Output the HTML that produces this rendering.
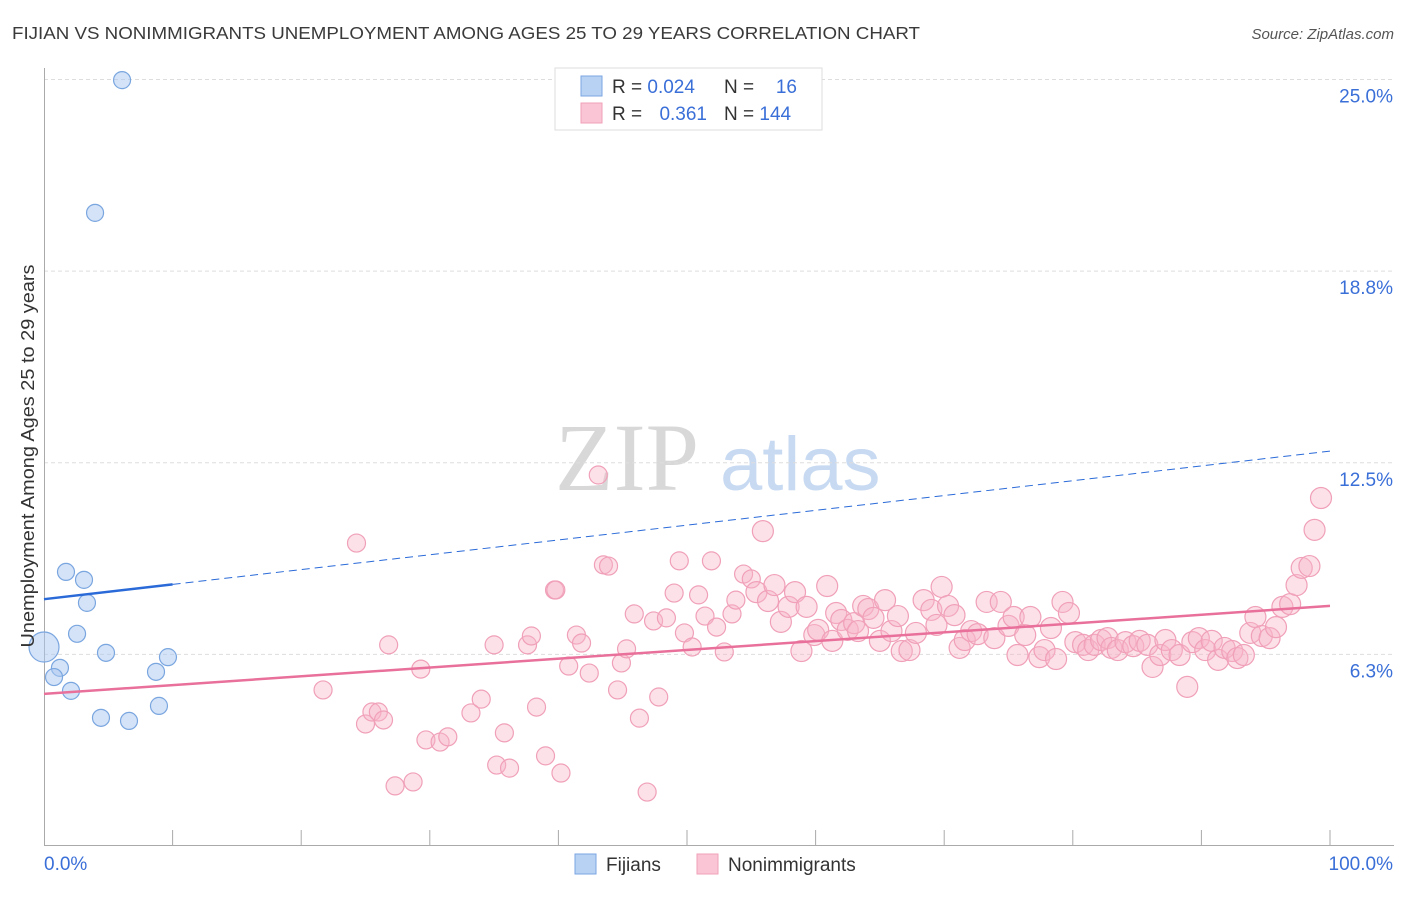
<!DOCTYPE html>
<html><head><meta charset="utf-8"><style>
body{margin:0;background:#fff;font-family:"Liberation Sans",sans-serif}
</style></head><body>
<svg width="1406" height="892" viewBox="0 0 1406 892" xmlns="http://www.w3.org/2000/svg" font-family="Liberation Sans, sans-serif">
<text x="12" y="39" font-size="17.5" fill="#3a3a3a" textLength="908" lengthAdjust="spacingAndGlyphs">FIJIAN VS NONIMMIGRANTS UNEMPLOYMENT AMONG AGES 25 TO 29 YEARS CORRELATION CHART</text>
<text x="1394" y="39" font-size="15" fill="#555" font-style="italic" text-anchor="end">Source: ZipAtlas.com</text>
<g>
<text x="555" y="490" font-size="96" fill="#d8d8d8" font-family="Liberation Serif, serif">ZIP</text>
<text x="720" y="490" font-size="76" fill="#c8daf2">atlas</text>
</g>
<g id="grid"></g>
<g id="axes"></g>
<g id="marks"></g>
<g>
<rect x="555" y="68" width="267" height="62" fill="#fff" stroke="#ddd"/>
<rect x="581" y="76" width="21" height="20" fill="#b8d2f4" stroke="#7aa6e0"/>
<rect x="581" y="103" width="21" height="20" fill="#fac6d6" stroke="#f0a0b8"/>
<text x="612" y="93" font-size="19" fill="#333">R = <tspan fill="#3a6fd8">0.024</tspan></text>
<text x="724" y="93" font-size="19" fill="#333">N =</text>
<text x="797" y="93" font-size="19" fill="#3a6fd8" text-anchor="end">16</text>
<text x="612" y="120" font-size="19" fill="#333">R = </text>
<text x="707" y="120" font-size="19" fill="#3a6fd8" text-anchor="end">0.361</text>
<text x="724" y="120" font-size="19" fill="#333">N = <tspan fill="#3a6fd8">144</tspan></text>
</g>
<g>
<rect x="575" y="854" width="21" height="20" fill="#b8d2f4" stroke="#7aa6e0"/>
<text x="606" y="871" font-size="19" fill="#333">Fijians</text>
<rect x="697" y="854" width="21" height="20" fill="#fac6d6" stroke="#f0a0b8"/>
<text x="728" y="871" font-size="19" fill="#333">Nonimmigrants</text>
</g>
<text transform="translate(34,456) rotate(-90)" font-size="18" fill="#333" text-anchor="middle" textLength="383" lengthAdjust="spacingAndGlyphs">Unemployment Among Ages 25 to 29 years</text>
</svg>
<script>
const yTicks=[6.25,12.5,18.75,25];
const yTickLabels=["6.3%","12.5%","18.8%","25.0%"];
const fijX=[6.07,3.97,1.71,3.11,3.34,2.57,4.82,9.64,1.24,8.71,0.78,2.10,8.94,4.43,6.61,0];
const fijY=[24.98,20.65,8.94,8.68,7.93,6.92,6.30,6.16,5.81,5.68,5.51,5.06,4.57,4.18,4.08,6.49];
const nonX=[24.3,21.7,25.0,25.5,26.0,26.4,26.8,27.3,28.7,29.3,29.7,30.8,31.4,33.2,34.0,35.0,35.2,36.2,35.8,38.3,37.6,37.9,39.0,39.7,39.8,40.2,40.8,41.4,41.8,42.4,43.1,43.5,43.9,44.6,44.9,45.3,45.9,46.3,46.9,47.4,47.8,48.4,49.0,49.4,49.8,50.4,50.9,51.4,51.9,52.3,52.9,53.5,53.8,54.4,55.0,55.4,55.9,56.3,56.8,57.3,57.9,58.4,58.9,59.3,59.9,60.2,60.9,61.3,61.6,62.0,62.5,63.0,63.3,63.7,64.1,64.5,65.4,65.0,65.9,66.4,66.7,67.3,67.8,68.4,69.0,69.4,69.8,70.3,70.8,71.2,71.6,72.1,72.6,73.3,73.9,74.4,75.0,75.4,75.7,76.3,76.7,77.4,77.8,78.3,78.7,79.2,79.7,80.2,80.8,81.2,81.7,82.2,82.7,83.0,83.5,84.1,84.7,85.2,85.8,86.2,86.8,87.2,87.7,88.3,88.9,89.3,89.8,90.3,90.8,91.3,91.8,92.4,92.8,93.3,93.8,94.2,94.7,95.3,95.8,96.3,96.9,97.4,97.8,98.4,98.8,99.3];
const nonY=[9.88,5.09,3.98,4.37,4.37,4.11,6.56,1.96,2.09,5.77,3.46,3.39,3.56,4.34,4.79,6.56,2.64,2.54,3.69,4.53,6.56,6.85,2.94,8.35,8.35,2.38,5.87,6.88,6.62,5.64,12.10,9.17,9.13,5.09,5.97,6.43,7.57,4.17,1.76,7.34,4.86,7.44,8.25,9.30,6.95,6.49,8.19,7.50,9.30,7.14,6.33,7.57,8.02,8.87,8.71,8.28,10.27,7.99,8.51,7.31,7.80,8.28,6.36,7.80,6.88,7.05,8.48,6.69,7.60,7.37,7.05,7.27,7.01,7.83,7.73,7.44,8.02,6.69,7.01,7.50,6.36,6.39,6.95,8.02,7.70,7.21,8.45,7.83,7.53,6.46,6.72,7.01,6.91,7.96,6.78,7.96,7.18,7.47,6.23,6.88,7.47,6.16,6.39,7.11,6.10,7.96,7.60,6.65,6.56,6.39,6.56,6.72,6.78,6.46,6.39,6.65,6.52,6.69,6.56,5.84,6.23,6.72,6.39,6.23,5.19,6.65,6.78,6.39,6.69,6.07,6.46,6.36,6.13,6.23,6.95,7.47,6.85,6.78,7.14,7.80,7.89,8.51,9.07,9.13,10.31,11.35];
const fijTrend=[8.05,12.88];
const nonTrend=[4.96,7.83];
const NS="http://www.w3.org/2000/svg";
const X=v=>44+v*12.86, Y=v=>846-v*30.66;
function mk(t,a,p){const e=document.createElementNS(NS,t);for(const k in a)e.setAttribute(k,a[k]);document.getElementById(p).appendChild(e);return e;}
yTicks.forEach((t,i)=>{
 const g=mk('line',{x1:44,x2:1394,y1:Y(t),y2:Y(t),stroke:'#ddd','stroke-dasharray':'4,3'},'grid');
 
 
 const l=mk('text',{x:1393,y:Y(t)+23,'font-size':19,fill:'#3a6fd8','text-anchor':'end'},'axes');
 l.textContent=yTickLabels[i];
 
 
});
mk('line',{x1:44.5,x2:44.5,y1:68,y2:845,stroke:'#aaa'},'axes');
mk('line',{x1:44,x2:1394,y1:845.5,y2:845.5,stroke:'#aaa'},'axes');
for(let i=1;i<=10;i++){const t=mk('line',{x1:X(i*10),x2:X(i*10),y1:830,y2:845,stroke:'#aaa'},'axes');
 
 }
const xl0=mk('text',{x:44,y:870,'font-size':19,fill:'#3a6fd8'},'axes');xl0.textContent='0.0%';


const xl1=mk('text',{x:1393,y:870,'font-size':19,fill:'#3a6fd8','text-anchor':'end'},'axes');xl1.textContent='100.0%';


nonX.forEach((x,i)=>{const c=mk('circle',{cx:X(x),cy:Y(nonY[i]),r:x>55?10.5:9,fill:'rgba(248,180,200,0.4)',stroke:'#f0a0b8','stroke-width':1.2},'marks');
 
 });
fijX.forEach((x,i)=>{const c=mk('circle',{cx:X(x),cy:Y(fijY[i]),r:x===0?15:8.5,fill:'rgba(170,200,240,0.5)',stroke:'#7aa6e0','stroke-width':1.2},'marks');
 
 });
const fy=v=>fijTrend[0]+(fijTrend[1]-fijTrend[0])*v/100;
const t1=mk('line',{x1:X(0),y1:Y(fy(0)),x2:X(10),y2:Y(fy(10)),stroke:'#2a6ad8','stroke-width':2.5},'marks');


const t2=mk('line',{x1:X(10),y1:Y(fy(10)),x2:X(100),y2:Y(fy(100)),stroke:'#2a6ad8','stroke-width':1,'stroke-dasharray':'8,5'},'marks');


const t3=mk('line',{x1:X(0),y1:Y(nonTrend[0]),x2:X(100),y2:Y(nonTrend[1]),stroke:'#e8709a','stroke-width':2.5},'marks');


</script>
</body></html>
